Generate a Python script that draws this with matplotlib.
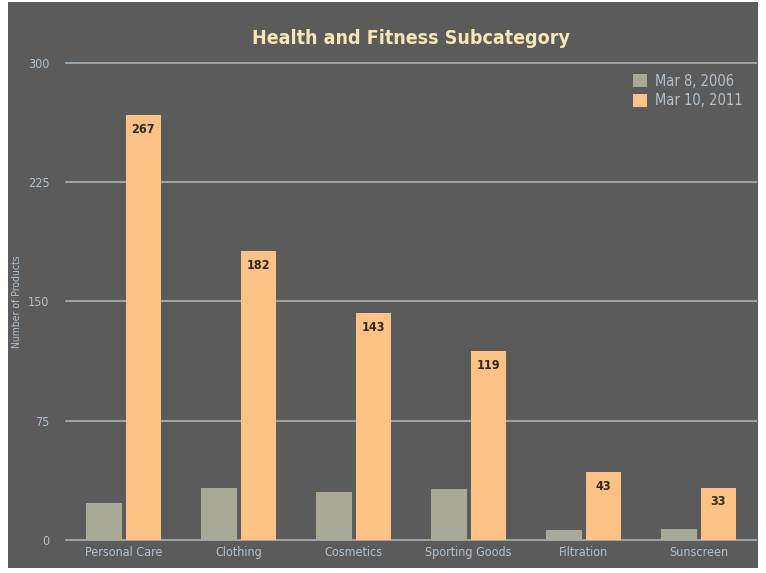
import numpy as np
import matplotlib
matplotlib.use('Agg')
import matplotlib.pyplot as plt
from matplotlib.patches import Rectangle

plt.rcParams['font.family'] = ['DejaVu Sans']
plt.rcParams['font.stretch'] = 'condensed'

# 데이터
categories = ['Personal Care', 'Clothing', 'Cosmetics', 'Sporting Goods', 'Filtration', 'Sunscreen']
counts_2006 = [23, 33, 30, 32, 6, 7]
counts_2011 = [267, 182, 143, 119, 43, 33]
series_labels = ['Mar 8, 2006', 'Mar 10, 2011']
yticks = [0, 75, 150, 225, 300]

bg = '#5b5b5b'
c_old = '#aaa995'
c_new = '#ffc286'
txt = '#b4c0cc'
grid_c = '#a3abb3'

fig = plt.figure(figsize=(7.66, 5.73), dpi=100)
fig.patch.set_facecolor('white')
fig.add_artist(Rectangle((0.010, 0.008), 0.980, 0.988, transform=fig.transFigure,
                         facecolor=bg, edgecolor='none', zorder=0))

ax = fig.add_axes([0.0862, 0.0576, 0.9008, 0.8325])
ax.set_facecolor('none')

x = np.arange(len(categories))
w = 0.31
gap = 0.035
ax.bar(x - (w + gap) / 2, counts_2006, w, color=c_old, label=series_labels[0], zorder=3)
bars = ax.bar(x + (w + gap) / 2, counts_2011, w, color=c_new, label=series_labels[1], zorder=3)

# 2011 막대 안쪽 위에 값 표시
for b, v in zip(bars, counts_2011):
    ax.text(b.get_x() + b.get_width() / 2, v - 5, str(v), ha='center', va='top',
            fontsize=9, fontweight='bold', color='#2e2a25', zorder=4)

ax.set_xlim(-0.5, len(categories) - 0.5)
ax.set_ylim(0, 300)
ax.set_yticks(yticks)
ax.set_yticklabels([str(t) for t in yticks])
ax.set_xticks(x)
ax.set_xticklabels(categories)
ax.tick_params(axis='both', length=0, colors=txt, labelsize=9)
ax.tick_params(axis='y', pad=12)
ax.tick_params(axis='x', pad=4)
ax.grid(axis='y', color=grid_c, linewidth=1.3, zorder=1)
for gl in ax.get_ygridlines():
    gl.set_clip_on(False)
for s in ax.spines.values():
    s.set_visible(False)

ax.set_ylabel('Number of Products', color=txt, fontsize=7.5)
ax.yaxis.set_label_coords(-0.064, 0.5)

fig.text(0.537, 0.933, 'Health and Fitness Subcategory', ha='center', va='center',
         fontsize=14, fontweight='bold', color='#f6e7b5')

leg = ax.legend(loc='upper right', bbox_to_anchor=(1.0, 1.005), frameon=False,
                fontsize=10.5, handlelength=0.9, handleheight=1.0, handletextpad=0.6,
                labelspacing=0.3)
for t in leg.get_texts():
    t.set_color(txt)

fig.savefig('out.png', dpi=100, facecolor=fig.get_facecolor())
